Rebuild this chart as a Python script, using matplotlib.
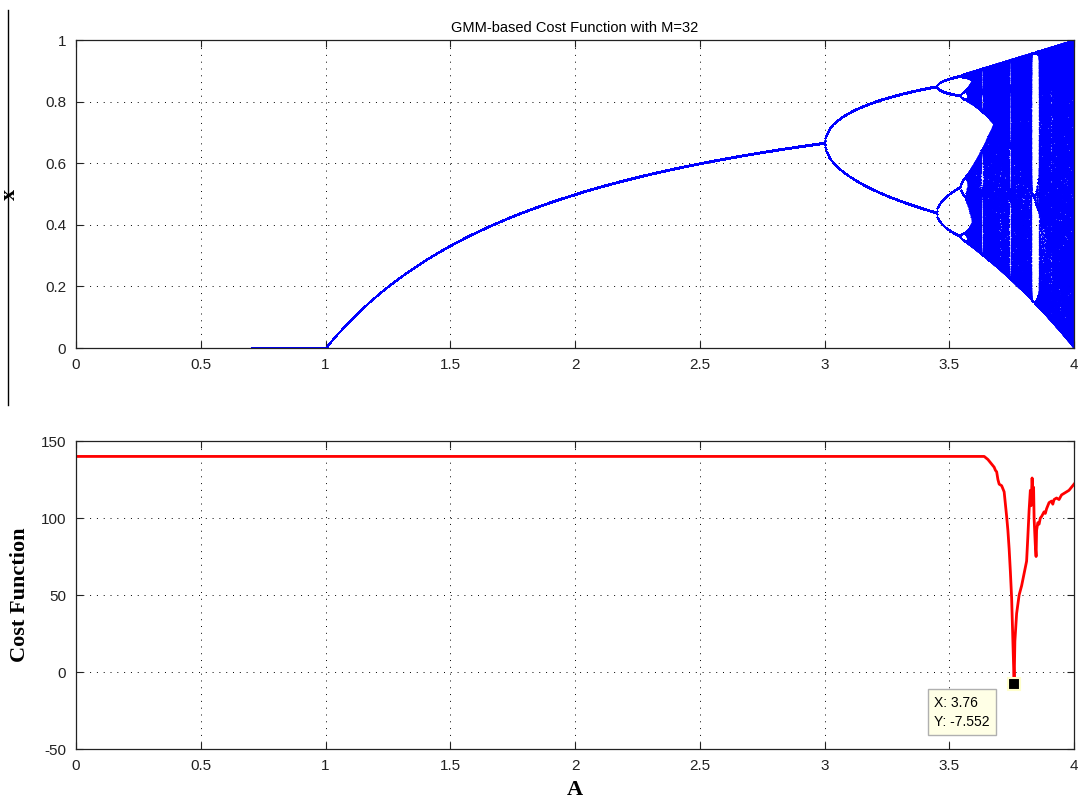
import numpy as np
import matplotlib
matplotlib.use('Agg')
import matplotlib.pyplot as plt
from matplotlib.lines import Line2D

# top panel: logistic map x -> A*x*(1-x), swept over A
a_start = 0.7
a_stop = 4.0
a_step = 0.002
n_transient = 1000
n_keep = 1000
x_start = 0.5

# bottom panel: cost function
cost_A = [0, 3.64, 3.655, 3.665, 3.67, 3.68, 3.685, 3.69, 3.695, 3.70, 3.71,
          3.72, 3.73, 3.735, 3.74, 3.745, 3.75, 3.755, 3.76, 3.763, 3.77,
          3.775, 3.78, 3.79, 3.795, 3.80, 3.81, 3.815, 3.82, 3.825, 3.828,
          3.832, 3.836, 3.838, 3.84, 3.845, 3.848, 3.85, 3.855, 3.86, 3.865,
          3.87, 3.88, 3.885, 3.89, 3.90, 3.91, 3.915, 3.92, 3.93, 3.94, 3.95,
          3.96, 3.97, 3.98, 3.99, 4.0]
cost_val = [140, 140, 138, 136, 135, 133, 131, 130, 125, 122, 121,
            117, 101, 92, 80, 65, 48, 20, -7.552, 20, 38,
            44, 50, 56, 60, 64, 72, 88, 105, 118, 108,
            126, 112, 120, 100, 82, 75, 92, 97, 96, 100,
            101, 104, 103, 106, 110, 111, 109, 112, 113, 112, 115,
            116, 117, 118, 120, 122]
tip_x = 3.76
tip_y = -7.552

x_ticks = [0, 0.5, 1, 1.5, 2, 2.5, 3, 3.5, 4]
x_ticklabels = ['0', '0.5', '1', '1.5', '2', '2.5', '3', '3.5', '4']
top_yticks = [0, 0.2, 0.4, 0.6, 0.8, 1]
top_yticklabels = ['0', '0.2', '0.4', '0.6', '0.8', '1']
bot_yticks = [-50, 0, 50, 100, 150]

A = np.arange(a_start, a_stop + a_step / 2, a_step)
x = np.full(A.shape, x_start)
for i in range(n_transient):
    x = A * x * (1 - x)
keep_A = []
keep_x = []
for i in range(n_keep):
    x = A * x * (1 - x)
    keep_A.append(A.copy())
    keep_x.append(x.copy())
keep_A = np.concatenate(keep_A)
keep_x = np.concatenate(keep_x)

plt.rcParams['font.family'] = ['Liberation Sans', 'DejaVu Sans']
plt.rcParams['axes.unicode_minus'] = False
fig = plt.figure(figsize=(10.78, 8.01), dpi=100)


def style_axes(ax):
    ax.set_xlim(0, 4)
    ax.set_xticks(x_ticks)
    ax.set_xticklabels(x_ticklabels)
    ax.tick_params(direction='in', top=True, right=True, length=5, width=0.8,
                   labelsize=11, colors='#222222', pad=7)
    ax.grid(True, color='k', linestyle=(0, (1, 6)), linewidth=0.7)
    ax.set_axisbelow(True)
    for s in ax.spines.values():
        s.set_linewidth(0.9)
        s.set_color('#222222')


ax1 = fig.add_axes([0.0705, 0.5655, 0.9258, 0.3845])
ax1.plot(keep_A, keep_x, '.', color='b', markersize=1.8, markeredgewidth=0)
style_axes(ax1)
ax1.set_ylim(0, 1)
ax1.set_yticks(top_yticks)
ax1.set_yticklabels(top_yticklabels)
ax1.set_title('GMM-based Cost Function with M=32', fontsize=10.5, pad=6)
ax1.set_ylabel('x', fontsize=16, family='Liberation Serif', fontweight='bold',
               labelpad=18)

ax2 = fig.add_axes([0.0705, 0.0649, 0.9258, 0.3845])
ax2.plot(cost_A, cost_val, color='r', linewidth=2)
style_axes(ax2)
ax2.set_ylim(-50, 150)
ax2.set_yticks(bot_yticks)
ax2.set_ylabel('Cost Function', fontsize=16, family='Liberation Serif',
               fontweight='bold', labelpad=8)
ax2.set_xlabel('A', fontsize=16, family='Liberation Serif', fontweight='bold',
               labelpad=5)

# data tip
ax2.plot([tip_x], [tip_y], 's', color='k', markersize=8,
         markeredgecolor='#ffffcc', markeredgewidth=1.5, zorder=5)
ax2.annotate('X: %.2f\nY: %.3f' % (tip_x, tip_y), xy=(tip_x, tip_y),
             xytext=(-80, -12), textcoords='offset pixels', ha='left', va='top',
             fontsize=10, linespacing=1.5,
             bbox=dict(boxstyle='square,pad=0.45', facecolor='#ffffe6',
                       edgecolor='#b0b0b0', linewidth=1), zorder=6)

# stray vertical line on the left edge of the original image
fig.add_artist(Line2D([0.0074, 0.0074], [0.9875, 0.494], color='k', linewidth=1))

fig.savefig('out.png', dpi=100)
